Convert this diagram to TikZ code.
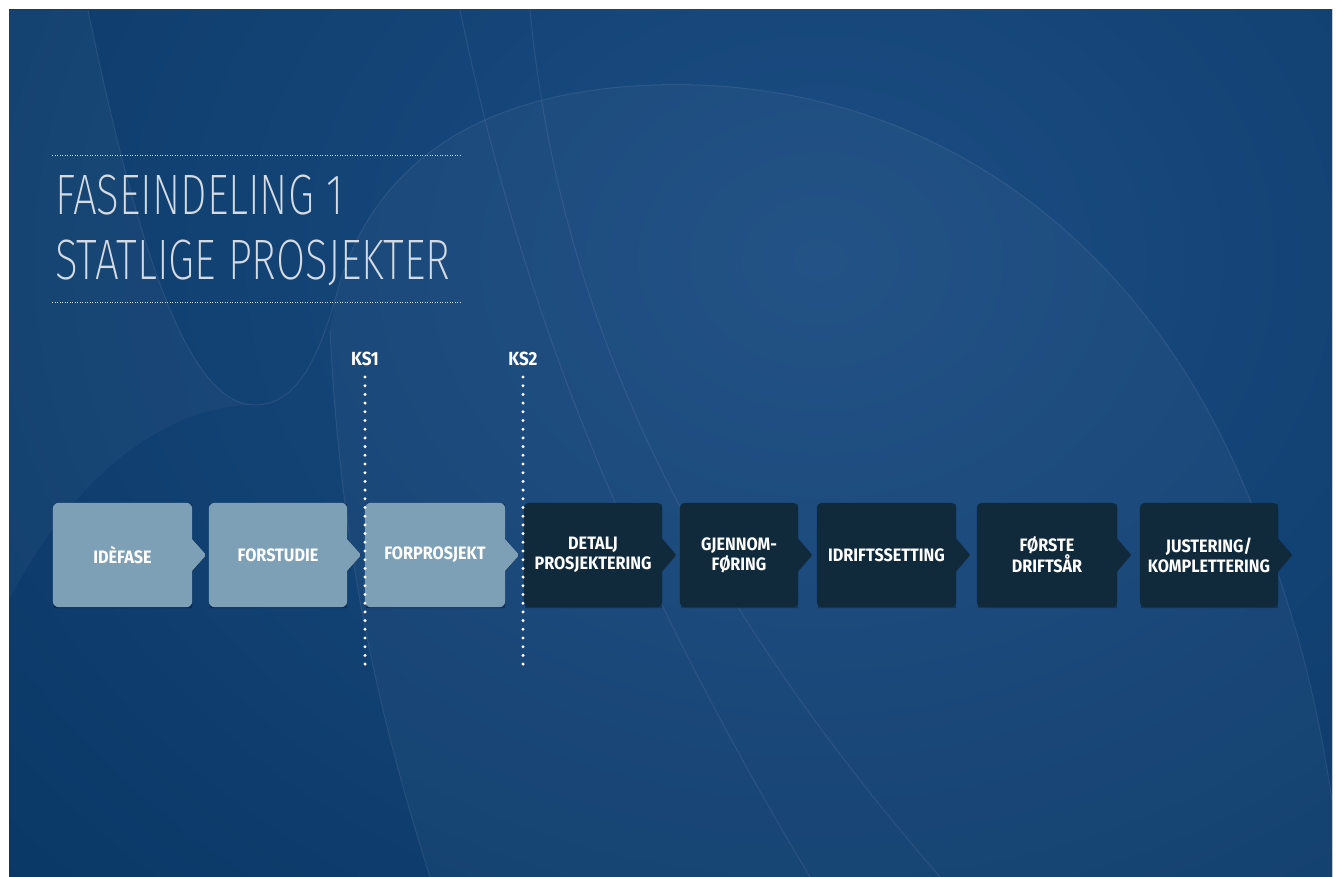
\documentclass[tikz,border=0pt]{standalone}
\usepackage{fontspec}
\usetikzlibrary{calc}
\IfFontExistsTF{Fira Sans ExtraLight}
 {\newfontfamily\titlefont[FakeStretch=0.74]{Fira Sans ExtraLight}}
 {\IfFontExistsTF{Fira Sans Light}
   {\newfontfamily\titlefont[FakeStretch=0.74]{Fira Sans Light}}
   {\newfontfamily\titlefont[FakeStretch=0.74]{Fira Sans}}}
\IfFontExistsTF{FiraSans-Bold.otf}
 {\newfontfamily\boxfontX[FakeStretch=0.9]{FiraSans-Bold.otf}\newcommand\boxfont{\boxfontX}}
 {\newfontfamily\boxfontX[FakeStretch=0.9]{Fira Sans}\newcommand\boxfont{\boxfontX\bfseries}}
\definecolor{bgbase}{HTML}{093765}
\definecolor{glow}{HTML}{1C4D83}
\definecolor{lightbox}{HTML}{7DA0B7}
\definecolor{darkbox}{HTML}{10293B}
\definecolor{titlegray}{HTML}{D5DBE2}
\pgfdeclarelayer{bg}\pgfdeclarelayer{shadow}\pgfdeclarelayer{shp}
\pgfsetlayers{bg,shadow,shp,main}
\tikzset{
  stage/.style={rectangle, minimum height=104pt, inner sep=0pt, align=center,
    text=white, font=\boxfont\fontsize{18}{20}\selectfont},
  kslabel/.style={text=white, inner sep=0pt, font=\boxfont\fontsize{19}{20}\selectfont},
  ksline/.style={white, line width=3.3pt, line cap=round, dash pattern=on 0pt off 8.7pt},
  titledots/.style={titlegray, line width=0.8pt, dash pattern=on 0.9pt off 1.6pt},
  titletext/.style={text=titlegray, inner sep=0pt, anchor=base west,
    font=\titlefont\fontsize{57}{60}\selectfont},
  bgline/.style={white, opacity=0.08, line width=1pt},
  bgfill/.style={white, opacity=0.03},
  boxshadow/.style={black, opacity=0.28},
}
\newcommand\chevron[2]{%
  \begin{pgfonlayer}{shadow}
  \fill[boxshadow, shift={(2pt,-3pt)}]
    ($(#1.north west)+(1,1)$) rectangle ($(#1.south east)+(0,1)$)
    ($(#1.east)+(-1,-18)$) -- ($(#1.east)+(14,0)$) -- ($(#1.east)+(-1,18)$) -- cycle;
  \end{pgfonlayer}
  \begin{pgfonlayer}{shp}
  \fill[#2, rounded corners=6pt] (#1.north west) rectangle (#1.south east);
  \fill[#2, rounded corners=1.5pt] ($(#1.east)+(-2,-18)$) -- ($(#1.east)+(14,0)$) -- ($(#1.east)+(-2,18)$) -- cycle;
  \end{pgfonlayer}}
\begin{document}
\begin{tikzpicture}[x=1pt, y=-1pt]
\useasboundingbox (0,0) rectangle (1339,877);
% background
\begin{pgfonlayer}{bg}
\fill[white] (0,0) rectangle (1339,877);
\begin{scope}
\clip (9,10) rectangle (1332,877);
\fill[bgbase] (9,10) rectangle (1332,877);
\fill[inner color=glow, outer color=bgbase] (820,260) ellipse [x radius=1150, y radius=950];
\fill[bgfill] (9,10) -- (88,10) .. controls (140,260) and (190,405) .. (255,405)
  .. controls (150,405) and (60,500) .. (9,600) -- cycle;
\fill[bgfill] (335,300) .. controls (380,120) and (550,80) .. (700,85)
  .. controls (950,95) and (1150,250) .. (1250,500) .. controls (1300,620) and (1320,720) .. (1332,800)
  -- (1332,877) -- (430,877) .. controls (380,720) and (340,550) .. (330,330) -- cycle;
\draw[bgline] (88,10) .. controls (140,260) and (190,405) .. (255,405)
  .. controls (300,405) and (320,350) .. (335,300);
\draw[bgline] (335,300) .. controls (380,120) and (550,80) .. (700,85)
  .. controls (950,95) and (1150,250) .. (1250,500) .. controls (1300,620) and (1320,720) .. (1332,800);
\draw[bgline] (330,330) .. controls (340,550) and (380,720) .. (430,877);
\draw[bgline] (460,10) .. controls (520,300) and (620,560) .. (810,877);
\draw[bgline] (530,10) .. controls (560,330) and (700,600) .. (940,877);
\end{scope}
\end{pgfonlayer}
% title
\coordinate (t1a) at (52,155); \coordinate (t1b) at (461,155);
\coordinate (t2a) at (52,302); \coordinate (t2b) at (461,302);
\draw[titledots] (t1a) -- (t1b);
\draw[titledots] (t2a) -- (t2b);
\node[titletext] (title1) at (55,215) {FASEINDELING 1};
\node[titletext] (title2) at (55,280) {STATLIGE PROSJEKTER};
% stages
\node[stage, minimum width=139pt] (s1) at (122.5,555) {IDÈFASE};
\node[stage, minimum width=138pt] (s2) at (278,555) {FORSTUDIE};
\node[stage, minimum width=140pt] (s3) at (435,555) {FORPROSJEKT};
\node[stage, minimum width=138pt] (s4) at (593,555) {DETALJ\\PROSJEKTERING};
\node[stage, minimum width=118pt] (s5) at (739,555) {GJENNOM-\\FØRING};
\node[stage, minimum width=139pt] (s6) at (886.5,555) {IDRIFTSSETTING};
\node[stage, minimum width=140pt] (s7) at (1047,555) {FØRSTE\\DRIFTSÅR};
\node[stage, minimum width=138pt] (s8) at (1209,555) {JUSTERING/\\KOMPLETTERING};
\chevron{s1}{lightbox}
\chevron{s2}{lightbox}
\chevron{s3}{lightbox}
\chevron{s4}{darkbox}
\chevron{s5}{darkbox}
\chevron{s6}{darkbox}
\chevron{s7}{darkbox}
\chevron{s8}{darkbox}
% KS markers
\node[kslabel] (ks1) at (365,359) {KS1};
\node[kslabel] (ks2) at (523,359) {KS2};
\coordinate (ks1top) at (365,377); \coordinate (ks1bot) at (365,667);
\coordinate (ks2top) at (523,377); \coordinate (ks2bot) at (523,667);
\draw[ksline] (ks1top) -- (ks1bot);
\draw[ksline] (ks2top) -- (ks2bot);
\end{tikzpicture}
\end{document}
